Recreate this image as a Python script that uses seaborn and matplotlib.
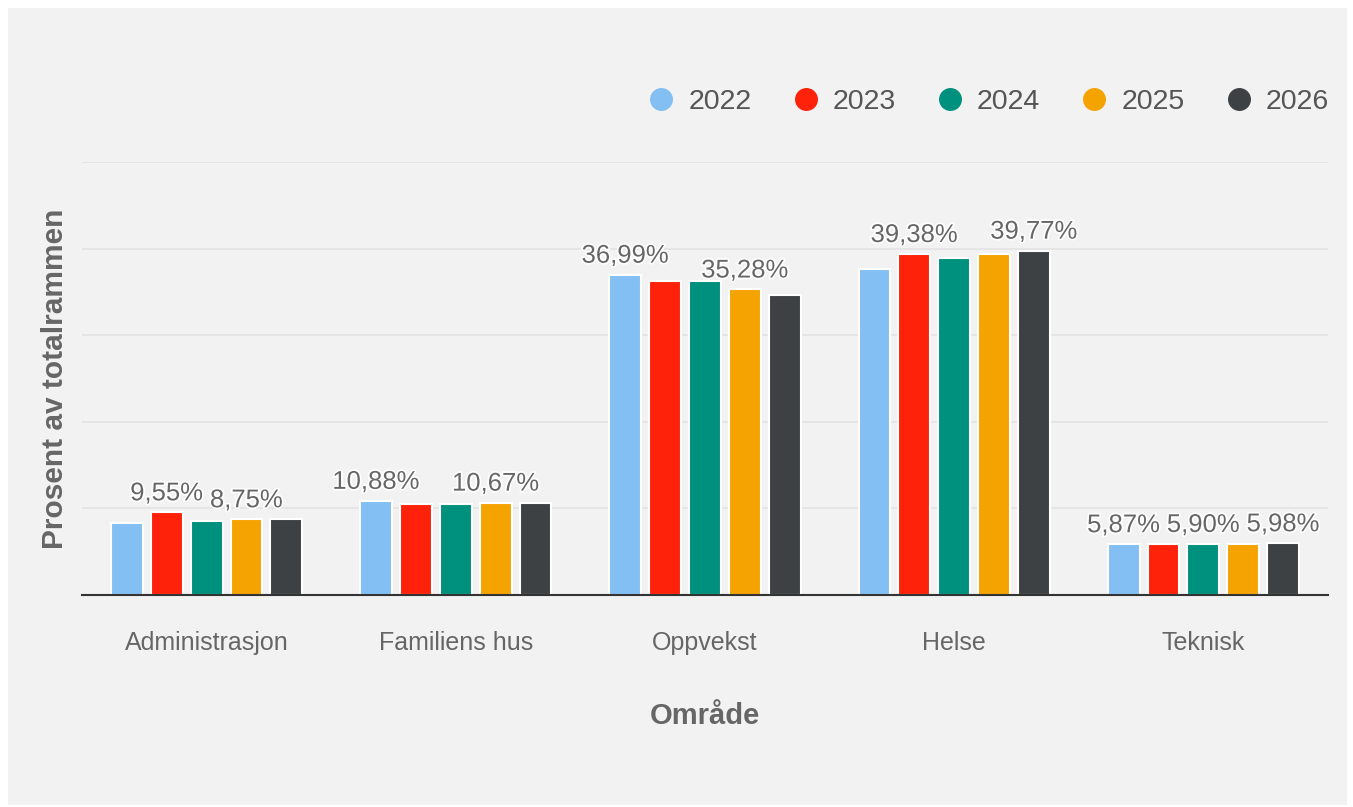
import pandas as pd
import matplotlib.pyplot as plt
import matplotlib.patheffects as pe
from matplotlib.patches import Rectangle
from matplotlib.lines import Line2D
import seaborn as sns

# Data
omrader = ['Administrasjon', 'Familiens hus', 'Oppvekst', 'Helse', 'Teknisk']
aar = ['2022', '2023', '2024', '2025', '2026']
v2022 = [8.30, 10.88, 36.99, 37.60, 5.87]
v2023 = [9.55, 10.47, 36.30, 39.38, 5.88]
v2024 = [8.55, 10.47, 36.30, 38.90, 5.90]
v2025 = [8.75, 10.67, 35.28, 39.40, 5.92]
v2026 = [8.75, 10.67, 34.60, 39.77, 5.98]
farger = ['#83bff3', '#ff220a', '#00917e', '#f5a300', '#3d4143']

# which year gets a value label in each area (others hidden, like the original)
etiketter = {
    'Administrasjon': ['2023', '2025'],
    'Familiens hus': ['2022', '2025'],
    'Oppvekst': ['2022', '2025'],
    'Helse': ['2023', '2026'],
    'Teknisk': ['2022', '2024', '2026'],
}

verdier = [v2022, v2023, v2024, v2025, v2026]
df = pd.DataFrame({
    'Område': omrader * len(aar),
    'År': [a for a in aar for _ in omrader],
    'Prosent': [v for serie in verdier for v in serie],
})

sns.set_theme(style="white")
plt.rcParams['font.family'] = ['Liberation Sans', 'DejaVu Sans']

fig = plt.figure(figsize=(13.53, 8.07), dpi=100, facecolor='white')
fig.patches.append(Rectangle((8 / 1353, 2 / 807), 1339 / 1353, 797 / 807,
                             transform=fig.transFigure, facecolor='#f2f2f2',
                             edgecolor='none', zorder=-10))
ax = fig.add_axes([82 / 1353, 1 - 595 / 807, 1246 / 1353, 433 / 807])
ax.set_facecolor('#f2f2f2')

sns.barplot(data=df, x='Område', y='Prosent', hue='År', order=omrader,
            hue_order=aar, palette=farger, saturation=1, width=0.8, gap=0.2,
            edgecolor='white', linewidth=1.5, legend=False, ax=ax, zorder=3)

# value labels
grå = '#666666'
for i, container in enumerate(ax.containers):
    for j, bar in enumerate(container):
        if aar[i] not in etiketter[omrader[j]]:
            continue
        v = verdier[i][j]
        ax.annotate(f"{v:.2f}".replace('.', ',') + '%',
                    (bar.get_x() + bar.get_width() / 2, bar.get_height()),
                    xytext=(0, 5), textcoords='offset points',
                    ha='center', va='bottom', fontsize=18.5, color=grå,
                    path_effects=[pe.withStroke(linewidth=2.5, foreground='white')],
                    zorder=5)

ax.set_ylim(0, 50)
ax.set_xlim(-0.5, 4.5)
ax.set_yticks([0, 10, 20, 30, 40, 50])
ax.set_yticklabels([])
ax.yaxis.grid(True, color='#e3e3e3', linewidth=1.2, zorder=0)
ax.xaxis.grid(False)
for s in ['top', 'right', 'left']:
    ax.spines[s].set_visible(False)
ax.spines['bottom'].set_color('#333333')
ax.spines['bottom'].set_linewidth(1.5)
ax.spines['bottom'].set_zorder(4)
ax.tick_params(axis='x', length=0, pad=26, labelsize=18, labelcolor=grå)
ax.tick_params(axis='y', length=0)

ax.set_xlabel('Område', fontsize=21, fontweight='bold', color=grå, labelpad=34)
ax.set_ylabel('Prosent av totalrammen', fontsize=21.5, fontweight='bold', color=grå)
ax.yaxis.set_label_coords(-0.0104, 0.5)

handles = [Line2D([], [], marker='o', linestyle='none', markersize=15.5,
                  markerfacecolor=c, markeredgecolor=c) for c in farger]
fig.legend(handles, aar, loc='center right', ncol=5, frameon=False,
           bbox_to_anchor=(1329 / 1353, 1 - 102 / 807), borderaxespad=0,
           borderpad=0, fontsize=20.5, labelcolor='#555555',
           handlelength=0.8, handletextpad=0.55, columnspacing=1.5)

fig.savefig('out.png', dpi=100, facecolor='white')
